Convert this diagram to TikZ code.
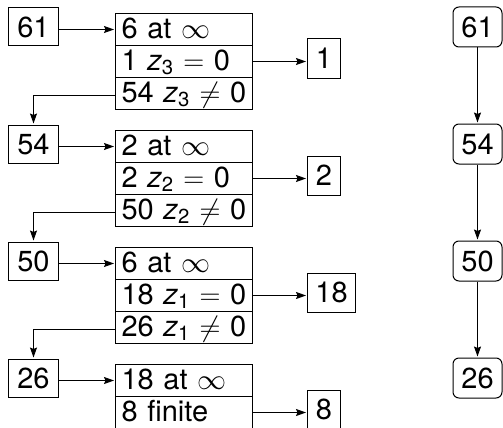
\RequirePackage{fix-cm}
\documentclass[tikz,border=0pt]{standalone}
\usepackage[no-math]{fontspec}
\setmainfont{TeX Gyre Heros}
\usetikzlibrary{arrows.meta}

\newcommand{\zv}[1]{\textit{z}\textsubscript{#1}}

\begin{document}
\begin{tikzpicture}[x=1pt,y=-1pt,
    every node/.style={font=\fontsize{29}{32}\selectfont, line width=1pt},
    numbox/.style={draw, rectangle, inner xsep=0pt, inner ysep=0pt,
      minimum height=38pt, minimum width=50pt, text height=20.5pt, text depth=0pt},
    resbox/.style={numbox, anchor=west, minimum height=39pt, minimum width=33pt},
    roundbox/.style={draw, rectangle, rounded corners=6pt, inner xsep=0pt,
      inner ysep=0pt, minimum height=40pt, minimum width=49pt,
      text height=20.5pt, text depth=0pt},
    cell/.style={draw, rectangle, anchor=north west, inner xsep=6pt, inner ysep=0pt,
      minimum width=137pt, minimum height=32pt, text width=125pt, align=left,
      text height=20.5pt, text depth=2.5pt},
    conn/.style={line width=0.9pt, shorten >=1pt,
      -{Stealth[length=10pt,width=7pt,inset=1.5pt]}}]
\useasboundingbox (0,0) rectangle (503,428);

% left column: counts fed into each stage
\node[numbox] (s61) at (33.5,27) {61};
\node[numbox] (s54) at (33.5,144) {54};
\node[numbox] (s50) at (33.5,261) {50};
\node[numbox] (s26) at (33.5,378) {26};

% stage tables
\node[cell] (a1) at (115,13) {6 at $\infty$};
\node[cell] (a2) at (115,45) {1 \zv{3} $=$ 0};
\node[cell] (a3) at (115,77) {54 \zv{3} $\neq$ 0};

\node[cell] (b1) at (115,130) {2 at $\infty$};
\node[cell] (b2) at (115,162) {2 \zv{2} $=$ 0};
\node[cell] (b3) at (115,194) {50 \zv{2} $\neq$ 0};

\node[cell] (c1) at (115,247) {6 at $\infty$};
\node[cell] (c2) at (115,279) {18 \zv{1} $=$ 0};
\node[cell] (c3) at (115,311) {26 \zv{1} $\neq$ 0};

\node[cell] (d1) at (115,364) {18 at $\infty$};
\node[cell] (d2) at (115,396) {8 finite};

% results split off at each stage
\node[resbox] (r1) at (307,58.5) {1};
\node[resbox] (r2) at (307,175.5) {2};
\node[resbox, minimum width=48pt] (r3) at (307,292.5) {18};
\node[resbox] (r4) at (307,409.5) {8};

% right column: chain of counts
\node[roundbox] (t61) at (477.5,27) {61};
\node[roundbox] (t54) at (477.5,144) {54};
\node[roundbox] (t50) at (477.5,261) {50};
\node[roundbox] (t26) at (477.5,378) {26};

% connectors
\draw[conn] (s61.east |- a1.west) -- (a1.west);
\draw[conn] (s54.east |- b1.west) -- (b1.west);
\draw[conn] (s50.east |- c1.west) -- (c1.west);
\draw[conn] (s26.east |- d1.west) -- (d1.west);

\draw[conn] (a2.east) -- (r1.west |- a2.east);
\draw[conn] (b2.east) -- (r2.west |- b2.east);
\draw[conn] (c2.east) -- (r3.west |- c2.east);
\draw[conn] (d2.east) -- (r4.west |- d2.east);

\draw[conn] ([yshift=-2pt]a3.west) -| (s54.north);
\draw[conn] ([yshift=-2pt]b3.west) -| (s50.north);
\draw[conn] ([yshift=-2pt]c3.west) -| (s26.north);

\draw[conn] (t61) -- (t54);
\draw[conn] (t54) -- (t50);
\draw[conn] (t50) -- (t26);
\end{tikzpicture}
\end{document}
